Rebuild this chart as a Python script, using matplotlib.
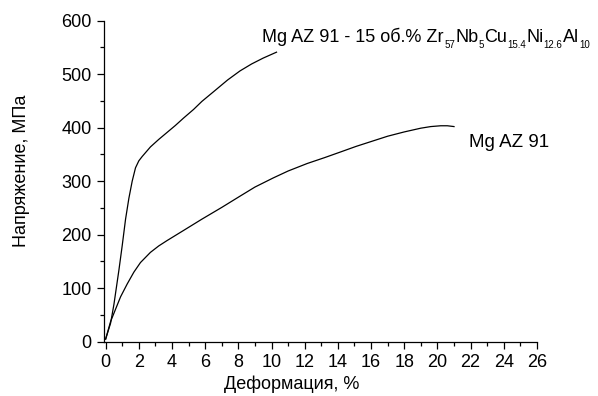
import matplotlib
matplotlib.use("Agg")
import matplotlib.pyplot as plt
from matplotlib.ticker import MultipleLocator

plt.rcParams['font.family'] = ['Liberation Sans', 'DejaVu Sans']

# composite Mg AZ 91 + 15 vol.% amorphous alloy
comp_strain = [0.0, 0.3, 0.5, 0.8, 1.0, 1.2, 1.4, 1.6, 1.8, 2.0, 2.2, 2.7, 3.2, 3.7, 4.2, 4.7,
               5.3, 5.8, 6.5, 7.35, 8.1, 8.8, 9.5, 10.3]
comp_stress = [5, 35, 70, 134, 180, 229, 268, 300, 325, 338, 346, 364, 378, 391, 404, 418,
               434, 449, 467, 489, 506, 519, 530, 541]

# base Mg AZ 91
base_strain = [0.0, 0.3, 0.9, 1.3, 1.7, 2.1, 2.7, 3.2, 3.7, 4.7, 5.8, 7.0, 8.1, 9.0, 10.1, 11.0,
               12.15, 13.2, 14.2, 15.1, 16.1, 17.0, 18.0, 19.0, 19.6, 20.2, 20.6, 21.0]
base_stress = [5, 38, 84, 108, 130, 148, 167, 179, 189, 208, 229, 251, 272, 289, 306, 319,
               333, 344, 355, 365, 375, 384, 392, 399, 402, 403.5, 403.5, 402]

# label pieces: (text, is_subscript)
comp_label = [('Mg AZ 91 - 15 об.% Zr', False), ('57', True), ('Nb', False), ('5', True),
              ('Cu', False), ('15.4', True), ('Ni', False), ('12.6', True),
              ('Al', False), ('10', True)]

x_ticks = list(range(0, 27, 2))
y_ticks = list(range(0, 601, 100))

fig = plt.figure(figsize=(5.98, 3.96), dpi=100)
ax = fig.add_axes([0.1739, 0.137, 0.724, 0.811])

ax.plot(comp_strain, comp_stress, color='black', linewidth=0.9)
ax.plot(base_strain, base_stress, color='black', linewidth=0.9)

# chemical formula label built piece by piece (small, low subscripts)
prev = ax.text(9.45, 560, comp_label[0][0], fontsize=13, ha='left', va='baseline')
for txt, sub in comp_label[1:]:
    if sub:
        prev = ax.annotate(txt, xy=(1, 560), xycoords=(prev, 'data'),
                           xytext=(0.3, -4.5), textcoords='offset points',
                           fontsize=7, ha='left', va='baseline')
    else:
        prev = ax.annotate(txt, xy=(1, 560), xycoords=(prev, 'data'),
                           xytext=(0, 0), textcoords='offset points',
                           fontsize=13, ha='left', va='baseline')

ax.text(21.9, 364.5, 'Mg AZ 91', fontsize=13.5, ha='left', va='baseline')

ax.set_xlim(-0.1, 26)
ax.set_ylim(0, 600)
ax.set_xticks(x_ticks)
ax.set_yticks(y_ticks)
ax.xaxis.set_minor_locator(MultipleLocator(1))
ax.yaxis.set_minor_locator(MultipleLocator(50))
ax.tick_params(which='major', direction='out', length=5, width=0.9, labelsize=13, pad=4)
ax.tick_params(which='minor', direction='out', length=3, width=0.9)

for side in ['top', 'right']:
    ax.spines[side].set_visible(False)
for side in ['left', 'bottom']:
    ax.spines[side].set_linewidth(0.9)

ax.set_xlabel('Деформация, %', fontsize=13)
ax.xaxis.set_label_coords(0.433, -0.104)
ax.set_ylabel('Напряжение, МПа', fontsize=13)
ax.yaxis.set_label_coords(-0.17, 0.532)

fig.savefig('out.png', dpi=100)
